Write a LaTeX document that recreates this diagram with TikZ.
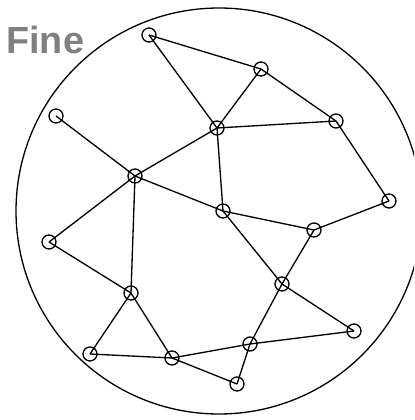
\documentclass[tikz,border=0pt]{standalone}
\usepackage{fontspec}
\setmainfont{Liberation Sans}
\usepackage{xcolor}
\usepackage{tikz}
\usetikzlibrary{positioning}
\definecolor{LabelGray}{HTML}{808080}
\tikzset{
  % Graph vertex
  VX/.style={circle,draw,line width=0.75pt,minimum size=0.28cm,inner sep=0pt},
  % Edge
  ED/.style={line width=0.75pt},
  % Title
  TT/.style={font=\fontsize{21.5}{24}\selectfont\bfseries,text=LabelGray,inner sep=0pt}
}
\begin{document}
\begin{tikzpicture}[x=0.02cm,y=-0.02cm]
  \useasboundingbox (0,0) rectangle (414,420);
  \clip (0,0) rectangle (414,420);

  % --- boundary ---
  \draw[ED] (219,211) circle[radius=203*0.02cm];
  \node[TT,anchor=base west] (title) at (6,53) {Fine};

  % --- vertices ---
  \node[VX] (a) at (149,35)  {};
  \node[VX] (b) at (261,69)  {};
  \node[VX] (c) at (217,128) {};
  \node[VX] (d) at (336,121) {};
  \node[VX] (e) at (56,116)  {};
  \node[VX] (f) at (135,176) {};
  \node[VX] (g) at (223,211) {};
  \node[VX] (h) at (389,201) {};
  \node[VX] (i) at (314,230) {};
  \node[VX] (j) at (49,242)  {};
  \node[VX] (k) at (131,293) {};
  \node[VX] (l) at (282,284) {};
  \node[VX] (m) at (354,331) {};
  \node[VX] (n) at (250,344) {};
  \node[VX] (o) at (90,354)  {};
  \node[VX] (p) at (172,358) {};
  \node[VX] (q) at (237,384) {};

  % --- edges ---
  \foreach \s/\t in {a/b,a/c,b/c,b/d,c/d,c/f,c/g,d/h,e/f,f/g,f/j,f/k,
                     g/i,g/l,h/i,i/l,j/k,k/o,k/p,l/m,l/n,n/m,n/p,n/q,o/p,p/q}
    \draw[ED] (\s.center) -- (\t.center);
\end{tikzpicture}
\end{document}
